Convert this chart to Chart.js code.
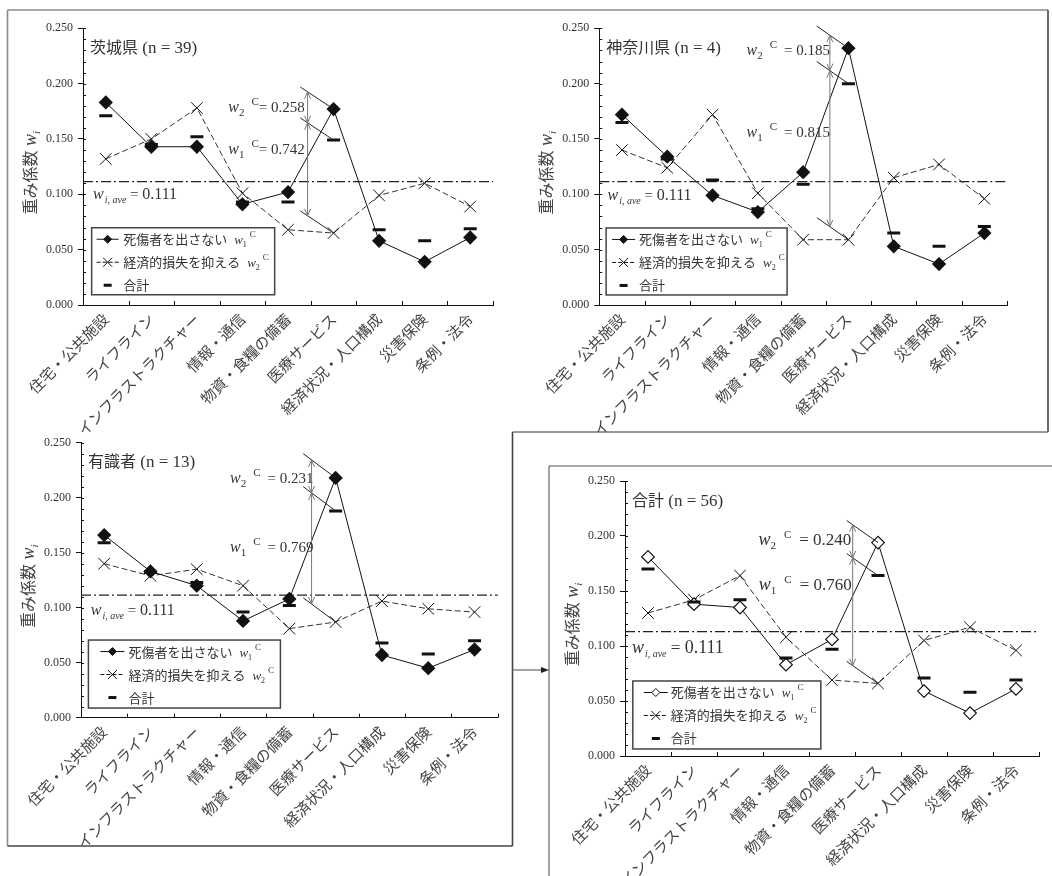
<!DOCTYPE html>
<html><head><meta charset="utf-8">
<script src="https://cdn.jsdelivr.net/npm/chart.js@4.4.1/dist/chart.umd.min.js"></script>
<style>
html,body{margin:0;padding:0;background:#fff;}
body{width:1052px;height:876px;position:relative;overflow:hidden;}
canvas{position:absolute;}
svg{position:absolute;left:0;top:0;}
</style></head><body>
<svg width="1052" height="876">
  <g fill="none" stroke-width="1.6">
    <line x1="7.5" y1="10" x2="1048" y2="10" stroke="#8a8a8a"/>
    <line x1="7.5" y1="10" x2="7.5" y2="846" stroke="#8a8a8a"/>
    <line x1="1048" y1="10" x2="1048" y2="432" stroke="#444"/>
    <line x1="512.5" y1="432" x2="1048" y2="432" stroke="#777"/>
    <line x1="512.5" y1="432" x2="512.5" y2="846" stroke="#444"/>
    <line x1="7.5" y1="846" x2="512.5" y2="846" stroke="#444"/>
    <line x1="549" y1="466" x2="1060" y2="466" stroke="#8a8a8a"/>
    <line x1="549" y1="466" x2="549" y2="880" stroke="#8a8a8a"/>
  </g>
  <line x1="512.5" y1="670" x2="543" y2="670" stroke="#666" stroke-width="1.2"/>
  <polygon points="549,670 541,667 541,673" fill="#222"/>
</svg>
<canvas id="c1" width="500" height="420" style="left:10px;top:12px"></canvas>
<canvas id="c2" width="510" height="420" style="left:530px;top:12px"></canvas>
<canvas id="c3" width="500" height="420" style="left:10px;top:425px"></canvas>
<canvas id="c4" width="498" height="408" style="left:552px;top:468px"></canvas>
<script>
// ---------- data ----------
const categories = ['住宅・公共施設','ライフライン','インフラストラクチャー','情報・通信','物資・食糧の備蓄','医療サービス','経済状況・人口構成','災害保険','条例・法令'];
const yTickValues = [0, 0.05, 0.10, 0.15, 0.20, 0.25];

const ibarakiW1    = [0.183, 0.143, 0.143, 0.091, 0.102, 0.177, 0.058, 0.039, 0.061];
const ibarakiW2    = [0.132, 0.150, 0.178, 0.101, 0.068, 0.065, 0.099, 0.110, 0.089];
const ibarakiTotal = [0.171, 0.145, 0.152, 0.093, 0.093, 0.149, 0.068, 0.058, 0.069];

const kanagawaW1    = [0.172, 0.134, 0.099, 0.084, 0.120, 0.232, 0.053, 0.037, 0.065];
const kanagawaW2    = [0.140, 0.124, 0.172, 0.101, 0.059, 0.059, 0.115, 0.127, 0.096];
const kanagawaTotal = [0.165, 0.132, 0.113, 0.087, 0.109, 0.200, 0.065, 0.053, 0.071];

const expertsW1    = [0.166, 0.133, 0.120, 0.088, 0.108, 0.218, 0.057, 0.045, 0.062];
const expertsW2    = [0.140, 0.129, 0.135, 0.120, 0.081, 0.087, 0.106, 0.099, 0.096];
const expertsTotal = [0.159, 0.132, 0.123, 0.096, 0.102, 0.188, 0.068, 0.058, 0.070];

const allW1    = [0.181, 0.138, 0.135, 0.083, 0.106, 0.194, 0.059, 0.039, 0.061];
const allW2    = [0.130, 0.142, 0.164, 0.108, 0.069, 0.066, 0.105, 0.117, 0.096];
const allTotal = [0.170, 0.140, 0.142, 0.089, 0.097, 0.164, 0.071, 0.058, 0.069];

const panelNames = ['茨城県', '神奈川県', '有識者', '合計'];
const panelN = [39, 4, 13, 56];
const w1cValues = ['0.742', '0.815', '0.769', '0.760'];
const w2cValues = ['0.258', '0.185', '0.231', '0.240'];
const avgValues = [0.1114, 0.1114, 0.1115, 0.113];
const avgLabel = '0.111';
const seriesNames = ['死傷者を出さない', '経済的損失を抑える', '合計'];

// ---------- styling ----------
const SERIF = '"Liberation Serif","Times New Roman",serif';
const CJK = '"Noto Sans CJK JP","Noto Sans",sans-serif';
const TXT = '#333';
const rm = s => `${s}px ${SERIF}`;
const it = s => `italic ${s}px ${SERIF}`;
const cj = s => `${s}px ${CJK}`;

function rich(ctx, x, y, parts, align) {
  let w = 0;
  for (const p of parts) { ctx.font = p[1]; w += (p[3] || 0) + ctx.measureText(p[0]).width; }
  let cx = align === 'center' ? x - w / 2 : x;
  ctx.textAlign = 'left'; ctx.textBaseline = 'alphabetic';
  for (const p of parts) { ctx.font = p[1]; cx += (p[3] || 0); ctx.fillText(p[0], cx, y + (p[2] || 0)); cx += ctx.measureText(p[0]).width; }
}
function seg(ctx, x1, y1, x2, y2) { ctx.beginPath(); ctx.moveTo(x1, y1); ctx.lineTo(x2, y2); ctx.stroke(); }
function arrowHead(ctx, x, y, dir) { // dir: -1 pointing up, +1 pointing down
  ctx.beginPath(); ctx.moveTo(x - 3, y - dir * 7); ctx.lineTo(x, y); ctx.lineTo(x + 3, y - dir * 7); ctx.stroke();
}
function drawDiamond(ctx, x, y, r, fill) {
  ctx.beginPath(); ctx.moveTo(x - r, y); ctx.lineTo(x, y - r); ctx.lineTo(x + r, y); ctx.lineTo(x, y + r); ctx.closePath();
  ctx.fillStyle = fill; ctx.fill(); ctx.stroke();
}
function drawCross(ctx, x, y, h) { seg(ctx, x - h, y - h, x + h, y + h); seg(ctx, x - h, y + h, x + h, y - h); }

function makeDeco(cfg) {
  return {
    id: 'deco' + cfg.k,
    beforeDatasetsDraw(chart) {
      const ctx = chart.ctx, ca = chart.chartArea, ys = chart.scales.y;
      ctx.save();
      ctx.strokeStyle = '#222'; ctx.lineWidth = 1.2; ctx.setLineDash([10, 3, 2, 3]);
      const y = ys.getPixelForValue(cfg.avg);
      seg(ctx, ca.left, y, ca.right, y);
      ctx.restore();
    },
    afterDraw(chart) {
      const ctx = chart.ctx, ca = chart.chartArea, xs = chart.scales.x, ys = chart.scales.y;
      const X = i => xs.getPixelForValue(i), Y = v => ys.getPixelForValue(v);
      ctx.save();
      ctx.strokeStyle = '#111'; ctx.lineWidth = 1;
      // inward category ticks
      const n = categories.length;
      for (let k = 0; k <= n; k++) { const x = Math.round(ca.left + k * (ca.right - ca.left) / n) + 0.5; seg(ctx, x, ca.bottom, x, ca.bottom - 4); }
      // minor y ticks
      for (let v = 1; v <= 25; v++) { const y = Math.round(Y(v / 100)) + 0.5; seg(ctx, ca.left, y, ca.left + 3, y); }
      // bracket lines
      const a = cfg.ann, top = cfg.w1[5], mid = cfg.total[5], bot = cfg.w2[5];
      const f = (v, x) => v + a.d * (5 - x) / (5 - a.x0);
      ctx.strokeStyle = '#222';
      for (const v of [top, mid, bot]) seg(ctx, X(a.x0), Y(v + a.d), X(5), Y(v));
      ctx.strokeStyle = '#777';
      const xa = X(a.xa), y1 = Y(f(top, a.xa)), y2 = Y(f(mid, a.xa)), y3 = Y(f(bot, a.xa));
      seg(ctx, xa, y1, xa, y3);
      arrowHead(ctx, xa, y1, -1); arrowHead(ctx, xa, y2, 1); arrowHead(ctx, xa, y2, -1); arrowHead(ctx, xa, y3, 1);
      // texts
      ctx.fillStyle = TXT;
      const fs = cfg.fs;
      rich(ctx, X(a.t2[0]), Y(a.t2[1]), [['w', it(fs + 2)], ['2', rm(11), 4], ['C', rm(11), -7, a.gc], ['=', rm(fs + 1), 0, a.ge], [' ' + w2cValues[cfg.k], rm(fs + 1)]]);
      rich(ctx, X(a.t1[0]), Y(a.t1[1]), [['w', it(fs + 2)], ['1', rm(11), 4], ['C', rm(11), -7, a.gc], ['=', rm(fs + 1), 0, a.ge], [' ' + w1cValues[cfg.k], rm(fs + 1)]]);
      // average label
      rich(ctx, X(cfg.avgPos[0]), Y(cfg.avgPos[1]), [['w', it(fs + 2)], ['i, ave', it(10), 4, 1], [' = ', rm(fs + 1)], [avgLabel, rm(fs + 2)]]);
      // panel title
      rich(ctx, ca.left + 7, ca.top + 24.5, [[panelNames[cfg.k], cj(16)], [' (n = ' + panelN[cfg.k] + ')', rm(17)]]);
      // y title
      ctx.save();
      ctx.translate(ca.left - 53, (ca.top + ca.bottom) / 2 + 6);
      ctx.rotate(-Math.PI / 2);
      ctx.fillStyle = '#444';
      rich(ctx, 0, 6, [['重み係数', cj(16)], [' w', it(18)], ['i', it(11), 4]], 'center');
      ctx.restore();
      // legend
      const L = cfg.leg, lx = X(L.x), ly = Y(L.y);
      ctx.fillStyle = '#fff'; ctx.fillRect(lx, ly, L.w, L.h);
      ctx.strokeStyle = '#444'; ctx.lineWidth = 1.5; ctx.strokeRect(lx, ly, L.w, L.h);
      ctx.lineWidth = 1;
      const rows = [ly + 11.5, ly + 34.5, ly + 57.5];
      const sx0 = lx + L.s0, sx1 = lx + L.s1, sc = (sx0 + sx1) / 2, tx = lx + L.t;
      ctx.strokeStyle = '#111';
      seg(ctx, sx0, rows[0], sx1, rows[0]);
      drawDiamond(ctx, sc, rows[0], 4, cfg.open ? '#fff' : '#111');
      ctx.setLineDash([4, 2]); seg(ctx, sx0, rows[1], sx1, rows[1]); ctx.setLineDash([]);
      drawCross(ctx, sc, rows[1], 4.5);
      ctx.lineWidth = 3; seg(ctx, sc - 4, rows[2], sc + 4, rows[2]); ctx.lineWidth = 1;
      ctx.fillStyle = TXT;
      rich(ctx, tx, rows[0] + 5, [[seriesNames[0], cj(13)], ['w', it(13), 0, 7], ['1', rm(8), 3], ['C', rm(9), -7, 3]]);
      rich(ctx, tx, rows[1] + 5, [[seriesNames[1], cj(13)], ['w', it(13), 0, 7], ['2', rm(8), 3], ['C', rm(9), -7, 3]]);
      rich(ctx, tx, rows[2] + 5, [[seriesNames[2], cj(13)]]);
      ctx.restore();
    }
  };
}

function makePanel(canvasId, cfg) {
  new Chart(document.getElementById(canvasId), {
    type: 'line',
    data: {
      labels: categories,
      datasets: [
        { label: seriesNames[2], data: cfg.total, showLine: false, pointStyle: 'line', pointRadius: 6.5, pointHoverRadius: 6.5,
          pointBorderWidth: 3, pointBorderColor: '#111', borderColor: '#111', order: 0 },
        { label: seriesNames[0], data: cfg.w1, borderColor: '#111', borderWidth: 1, tension: 0, pointStyle: 'rectRot', pointRadius: 6.3,
          pointBackgroundColor: cfg.open ? '#fff' : '#111', pointBorderColor: '#111', pointBorderWidth: 1.2, order: 1 },
        { label: seriesNames[1], data: cfg.w2, borderColor: '#333', borderWidth: 1, borderDash: [6, 3], tension: 0, pointStyle: 'crossRot', pointRadius: 8.2,
          pointBorderColor: '#111', pointBorderWidth: 1, order: 2 }
      ]
    },
    options: {
      responsive: false, animation: false, devicePixelRatio: 1,
      layout: { padding: { left: 0, top: cfg.padTop, right: cfg.padRight, bottom: 0 } },
      plugins: { legend: { display: false }, tooltip: { enabled: false } },
      scales: {
        x: {
          type: 'category', offset: true,
          grid: { display: true, drawOnChartArea: false, drawTicks: false, offset: true },
          border: { display: true, color: '#111', width: 1 },
          ticks: { autoSkip: false, minRotation: 45, maxRotation: 45, padding: 5, color: '#444', font: { family: CJK, size: 15 } },
          afterFit(s) { s.height = cfg.xH; }
        },
        y: {
          min: 0, max: 0.25,
          afterBuildTicks(s) { s.ticks = yTickValues.map(v => ({ value: v })); },
          ticks: { callback: v => Number(v).toFixed(3), color: '#333', font: { family: SERIF, size: 12 }, padding: 5 },
          grid: { drawOnChartArea: false, drawTicks: true, tickLength: 5, tickColor: '#111' },
          border: { display: true, color: '#111', width: 1 },
          afterFit(s) { s.width = cfg.yW; }
        }
      }
    },
    plugins: [makeDeco(cfg)]
  });
}

makePanel('c1', { k: 0, w1: ibarakiW1, w2: ibarakiW2, total: ibarakiTotal, avg: avgValues[0], open: false, fs: 14,
  yW: 73, padTop: 16.3, padRight: 17, xH: 127,
  ann: { x0: 4.27, xa: 4.43, d: 0.02, t2: [2.69, 0.1745], t1: [2.69, 0.1363], gc: 7, ge: 0 },
  avgPos: [-0.28, 0.0954], leg: { x: -0.31, y: 0.0698, w: 183, h: 67, s0: 5, s1: 27, t: 31.5 } });
makePanel('c2', { k: 1, w1: kanagawaW1, w2: kanagawaW2, total: kanagawaTotal, avg: avgValues[1], open: false, fs: 14,
  yW: 69.3, padTop: 16.3, padRight: 33, xH: 127,
  ann: { x0: 4.3, xa: 4.59, d: 0.02, t2: [2.75, 0.2263], t1: [2.75, 0.1519], gc: 7, ge: 7 },
  avgPos: [-0.32, 0.0948], leg: { x: -0.35, y: 0.0696, w: 181, h: 67, s0: 6, s1: 29, t: 33 } });
makePanel('c3', { k: 2, w1: expertsW1, w2: expertsW2, total: expertsTotal, avg: avgValues[2], open: false, fs: 14,
  yW: 71, padTop: 17.7, padRight: 12.3, xH: 127.3,
  ann: { x0: 4.3, xa: 4.48, d: 0.022, t2: [2.72, 0.2131], t1: [2.72, 0.1509], gc: 7, ge: 7 },
  avgPos: [-0.29, 0.0934], leg: { x: -0.34, y: 0.0706, w: 192, h: 68, s0: 12, s1: 36, t: 40 } });
makePanel('c4', { k: 3, w1: allW1, w2: allW2, total: allTotal, avg: avgValues[3], open: true, fs: 16,
  yW: 73, padTop: 13, padRight: 11, xH: 120,
  ann: { x0: 4.32, xa: 4.45, d: 0.02, t2: [2.40, 0.1918], t1: [2.41, 0.1509], gc: 8, ge: 8 },
  avgPos: [-0.35, 0.0934], leg: { x: -0.33, y: 0.0682, w: 188, h: 68, s0: 11, s1: 35, t: 38 } });
</script>
</body></html>
